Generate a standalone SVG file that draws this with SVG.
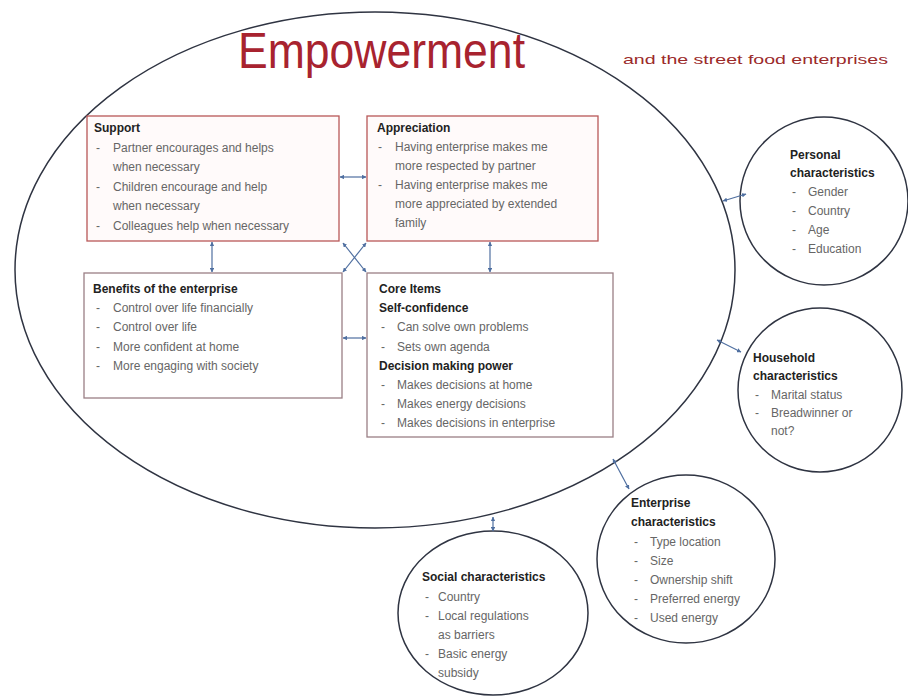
<svg xmlns="http://www.w3.org/2000/svg" width="908" height="698" viewBox="0 0 908 698">
<defs>
<marker id="ah" viewBox="0 0 6 6" refX="5.5" refY="3" markerWidth="4.5" markerHeight="4.5" orient="auto-start-reverse" markerUnits="userSpaceOnUse">
<path d="M0,0 L6,3 L0,6 Z" fill="#4f6fa0"/>
</marker>
<style>
text{font-family:"Liberation Sans",Arial,sans-serif;}
.h{font-size:12px;font-weight:bold;fill:#222;}
.t{font-size:12px;fill:#666;}
.box1{fill:#fffafa;stroke:#b85858;stroke-width:1.3;}
.box2{fill:#ffffff;stroke:#9a7f85;stroke-width:1.3;}
.circ{fill:#ffffff;stroke:#2f3442;stroke-width:1.5;}
.con line{stroke:#4f6fa0;stroke-width:1.2;marker-start:url(#ah);marker-end:url(#ah);}
</style>
</defs>
<rect width="908" height="698" fill="#ffffff"/>

<g id="empowerment">
<ellipse cx="375" cy="270" rx="360" ry="258" fill="none" stroke="#2f3442" stroke-width="1.5"/>
<text x="238" y="68" font-size="50" fill="#a8232f" textLength="287" lengthAdjust="spacingAndGlyphs">Empowerment</text>
<text x="623" y="64" font-size="13" fill="#9b2a2a" textLength="265" lengthAdjust="spacingAndGlyphs">and the street food enterprises</text>
</g>

<g id="support">
<rect class="box1" x="87" y="116" width="252" height="125"/>
<text class="h" x="94" y="132">Support</text>
<text class="t" x="96" y="152">-</text><text class="t" x="113" y="152">Partner encourages and helps</text>
<text class="t" x="113" y="171">when necessary</text>
<text class="t" x="96" y="191">-</text><text class="t" x="113" y="191">Children encourage and help</text>
<text class="t" x="113" y="210">when necessary</text>
<text class="t" x="96" y="230">-</text><text class="t" x="113" y="230">Colleagues help when necessary</text>
</g>

<g id="appreciation">
<rect class="box1" x="367" y="116" width="231" height="125"/>
<text class="h" x="377" y="132">Appreciation</text>
<text class="t" x="378" y="151">-</text><text class="t" x="395" y="151">Having enterprise makes me</text>
<text class="t" x="395" y="170">more respected by partner</text>
<text class="t" x="378" y="189">-</text><text class="t" x="395" y="189">Having enterprise makes me</text>
<text class="t" x="395" y="208">more appreciated by extended</text>
<text class="t" x="395" y="227">family</text>
</g>

<g id="benefits">
<rect class="box2" x="84" y="273" width="258" height="125"/>
<text class="h" x="93" y="293">Benefits of the enterprise</text>
<text class="t" x="96" y="312">-</text><text class="t" x="113" y="312">Control over life financially</text>
<text class="t" x="96" y="331">-</text><text class="t" x="113" y="331">Control over life</text>
<text class="t" x="96" y="351">-</text><text class="t" x="113" y="351">More confident at home</text>
<text class="t" x="96" y="370">-</text><text class="t" x="113" y="370">More engaging with society</text>
</g>

<g id="core">
<rect class="box2" x="367" y="273" width="246" height="164"/>
<text class="h" x="379" y="293">Core Items</text>
<text class="h" x="379" y="312">Self-confidence</text>
<text class="t" x="381" y="331">-</text><text class="t" x="397" y="331">Can solve own problems</text>
<text class="t" x="381" y="351">-</text><text class="t" x="397" y="351">Sets own agenda</text>
<text class="h" x="379" y="370">Decision making power</text>
<text class="t" x="381" y="389">-</text><text class="t" x="397" y="389">Makes decisions at home</text>
<text class="t" x="381" y="408">-</text><text class="t" x="397" y="408">Makes energy decisions</text>
<text class="t" x="381" y="427">-</text><text class="t" x="397" y="427">Makes decisions in enterprise</text>
</g>

<g id="personal">
<circle class="circ" cx="824" cy="201" r="84"/>
<text class="h" x="790" y="159">Personal</text>
<text class="h" x="790" y="177">characteristics</text>
<text class="t" x="792" y="196">-</text><text class="t" x="808" y="196">Gender</text>
<text class="t" x="792" y="215">-</text><text class="t" x="808" y="215">Country</text>
<text class="t" x="792" y="234">-</text><text class="t" x="808" y="234">Age</text>
<text class="t" x="792" y="253">-</text><text class="t" x="808" y="253">Education</text>
</g>

<g id="household">
<circle class="circ" cx="820" cy="390" r="82"/>
<text class="h" x="753" y="362">Household</text>
<text class="h" x="753" y="380">characteristics</text>
<text class="t" x="755" y="399">-</text><text class="t" x="771" y="399">Marital status</text>
<text class="t" x="755" y="417">-</text><text class="t" x="771" y="417">Breadwinner or</text>
<text class="t" x="771" y="435">not?</text>
</g>

<g id="enterprise">
<ellipse class="circ" cx="686" cy="559" rx="89" ry="84"/>
<text class="h" x="631" y="507">Enterprise</text>
<text class="h" x="631" y="526">characteristics</text>
<text class="t" x="634" y="546">-</text><text class="t" x="650" y="546">Type location</text>
<text class="t" x="634" y="565">-</text><text class="t" x="650" y="565">Size</text>
<text class="t" x="634" y="584">-</text><text class="t" x="650" y="584">Ownership shift</text>
<text class="t" x="634" y="603">-</text><text class="t" x="650" y="603">Preferred energy</text>
<text class="t" x="634" y="622">-</text><text class="t" x="650" y="622">Used energy</text>
</g>

<g id="social">
<ellipse class="circ" cx="493" cy="613" rx="95" ry="82"/>
<text class="h" x="422" y="581">Social characteristics</text>
<text class="t" x="425" y="601">-</text><text class="t" x="438" y="601">Country</text>
<text class="t" x="425" y="620">-</text><text class="t" x="438" y="620">Local regulations</text>
<text class="t" x="438" y="639">as barriers</text>
<text class="t" x="425" y="658">-</text><text class="t" x="438" y="658">Basic energy</text>
<text class="t" x="438" y="677">subsidy</text>
</g>

<g id="connectors" class="con">
<line x1="340" y1="177" x2="366" y2="177"/>
<line x1="212" y1="242" x2="212" y2="272"/>
<line x1="490" y1="242" x2="490" y2="272"/>
<line x1="343" y1="338" x2="366" y2="338"/>
<line x1="343" y1="243" x2="366" y2="272"/>
<line x1="366" y1="243" x2="343" y2="272"/>
<line x1="723" y1="201" x2="746" y2="194"/>
<line x1="717" y1="340" x2="741" y2="352"/>
<line x1="613" y1="459" x2="629" y2="489"/>
<line x1="493" y1="517" x2="493" y2="531"/>
</g>
</svg>
